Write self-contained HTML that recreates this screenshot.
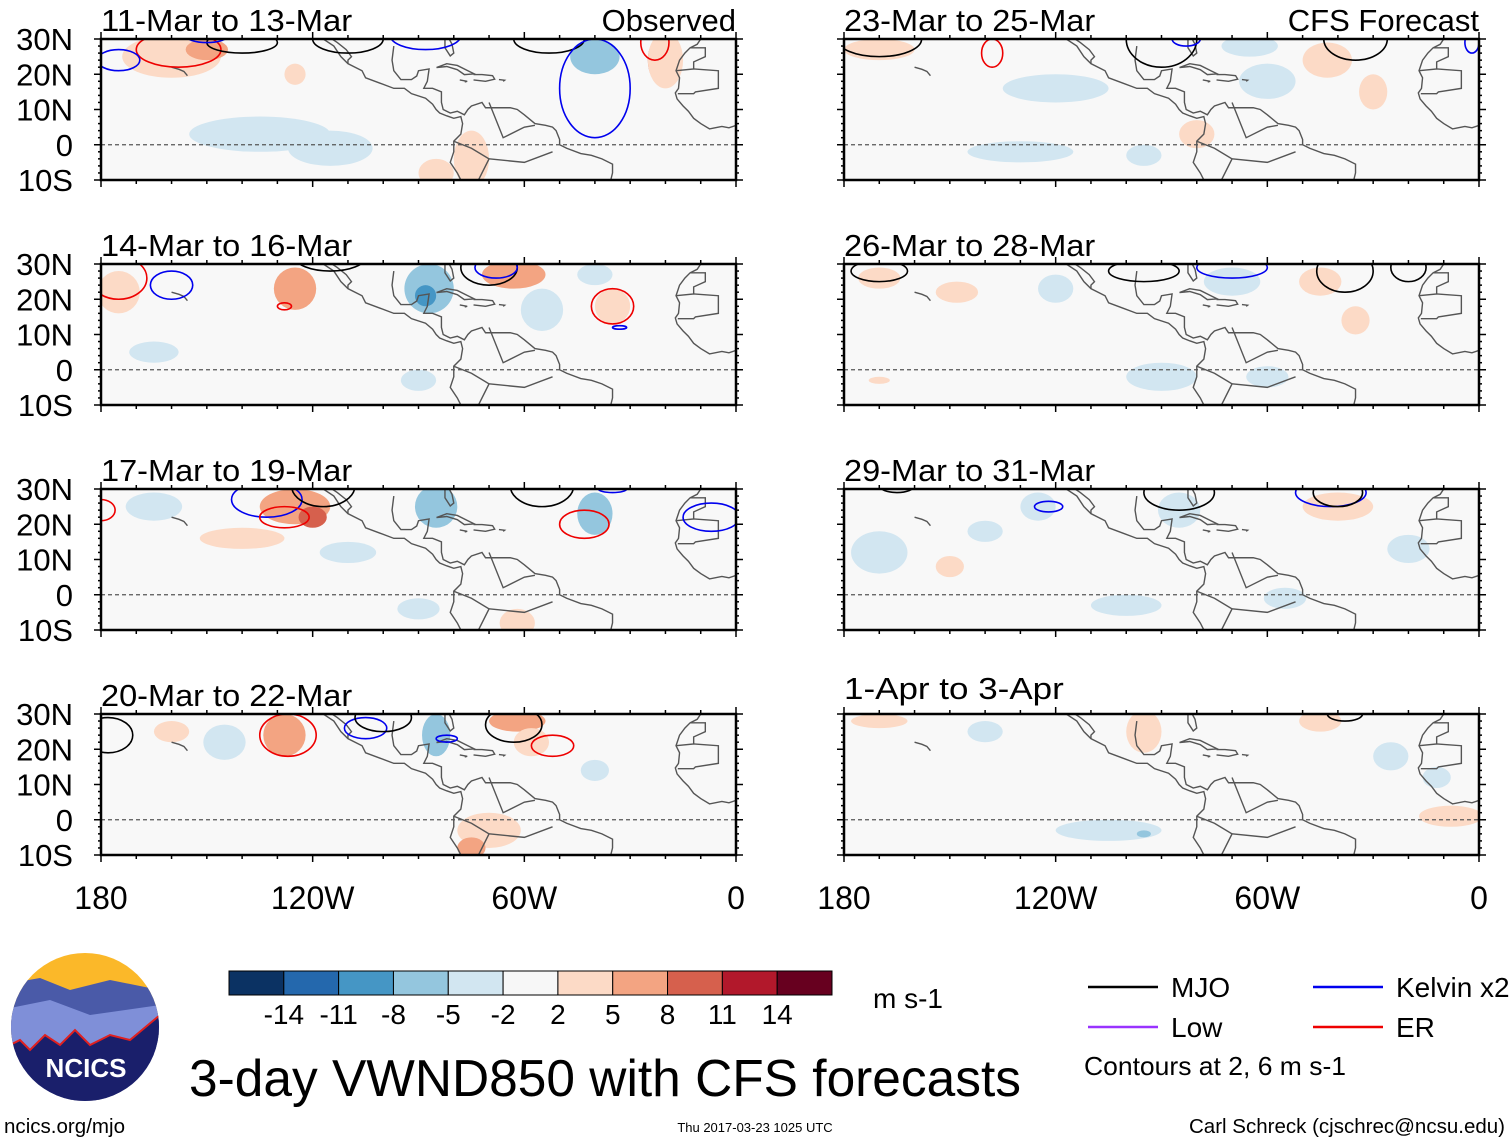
<!DOCTYPE html>
<html><head><meta charset="utf-8"><style>
html,body{margin:0;padding:0;background:#fff;}
svg{display:block;font-family:"Liberation Sans",sans-serif;}
</style></head><body>
<svg id="fig" width="1510" height="1142" viewBox="0 0 1510 1142" xmlns="http://www.w3.org/2000/svg"></svg>
<script>
// ---- data ----
const panelTitles = ["11-Mar to 13-Mar","14-Mar to 16-Mar","17-Mar to 19-Mar","20-Mar to 22-Mar","23-Mar to 25-Mar","26-Mar to 28-Mar","29-Mar to 31-Mar","1-Apr to 3-Apr"];
const latTicks = [30,20,10,0,-10];
const latLabels = ["30N","20N","10N","0","10S"];
const lonTicks = [-180,-120,-60,0];
const lonLabels = ["180","120W","60W","0"];
const levels = [-14,-11,-8,-5,-2,2,5,8,11,14];
const levelColors = ["#0b3263","#2468ad","#4596c5","#94c6de","#d2e6f1","#f7f7f7","#fcdac6","#f3a482","#d6604d","#b2182b","#67001f"];
// anomaly blobs per panel: [lon, lat, rxDeg, ryDeg, value]
const blobs0 = [[-160,25,14,6,3],[-150,27,6,3,6],[-125,20,3,3,5],[-135,3,20,5,-3],[-115,-1,12,5,-3],[-22,24,3,6,9],[-20,24,5,8,4],[-40,25,7,5,-5],[-75,-4,5,8,3],[-85,-8,5,4,3]];
const blobs1 = [[-175,22,6,6,3],[-125,23,6,6,6],[-87,23,7,7,-6],[-88,21,3,3,-9],[-63,27,9,4,8],[-55,17,6,6,-3],[-35,18,5,5,4],[-40,27,5,3,-4],[-165,5,7,3,-3],[-90,-3,5,3,-3]];
const blobs2 = [[-165,25,8,4,-4],[-125,25,10,5,7],[-120,22,4,3,9],[-85,25,6,6,-5],[-40,23,5,6,-5],[-140,16,12,3,3],[-62,-8,5,4,5],[-90,-4,6,3,-3],[-110,12,8,3,-3]];
const blobs3 = [[-145,22,6,5,-4],[-128,24,6,6,6],[-85,24,4,6,-7],[-62,28,8,3,6],[-58,22,5,4,3],[-70,-3,9,5,4],[-75,-8,4,3,6],[-160,25,5,3,3],[-40,14,4,3,-3]];
const blobs4 = [[-170,27,10,3,3],[-120,16,15,4,-3],[-60,18,8,5,-3],[-65,28,8,3,-4],[-43,24,7,5,4],[-30,15,4,5,3],[-80,3,5,4,3],[-130,-2,15,3,-3],[-95,-3,5,3,-4]];
const blobs5 = [[-170,26,6,3,3],[-148,22,6,3,3],[-120,23,5,4,-3],[-70,25,8,4,-3],[-45,25,6,4,5],[-35,14,4,4,3],[-90,-2,10,4,-3],[-60,-2,6,3,-3],[-170,-3,3,1,3]];
const blobs6 = [[-170,12,8,6,-3],[-125,25,5,4,-4],[-140,18,5,3,-3],[-85,24,6,5,-3],[-40,25,10,4,4],[-20,13,6,4,-3],[-150,8,4,3,3],[-100,-3,10,3,-3],[-55,-1,6,3,-3]];
const blobs7 = [[-170,28,8,2,3],[-140,25,5,3,-3],[-95,25,5,6,3],[-45,28,6,3,3],[-25,18,5,4,-3],[-12,12,4,3,-3],[-105,-3,15,3,-3],[-95,-4,2,1,-5],[-8,1,9,3,3]];
const allBlobs = [blobs0,blobs1,blobs2,blobs3,blobs4,blobs5,blobs6,blobs7];
// contour ellipses per panel: [lon, lat, rxDeg, ryDeg, type]
const cont0 = [[-158,27,12,5,"ER"],[-175,24,6,3,"K"],[-140,29,10,3,"MJO"],[-110,30,10,4,"MJO"],[-150,31,6,2,"K"],[-88,31,10,4,"K"],[-53,30,10,4,"MJO"],[-40,16,10,14,"K"],[-23,29,4,5,"ER"]];
const cont1 = [[-175,26,8,6,"ER"],[-160,24,6,4,"K"],[-115,32,10,4,"MJO"],[-70,29,8,5,"MJO"],[-68,29,6,3,"K"],[-35,18,6,5,"ER"],[-128,18,2,1,"ER"],[-33,12,2,0.5,"K"]];
const cont2 = [[-180,24,4,3,"ER"],[-133,27,10,5,"K"],[-128,22,7,3,"ER"],[-117,31,9,6,"MJO"],[-55,31,9,6,"MJO"],[-43,20,7,4,"ER"],[-35,30,4,1,"K"],[-7,22,8,4,"K"]];
const cont3 = [[-178,24,7,5,"MJO"],[-127,24,8,6,"ER"],[-105,26,6,3,"K"],[-100,29,8,4,"MJO"],[-82,23,3,1,"K"],[-63,27,8,5,"MJO"],[-52,21,6,3,"ER"]];
const cont4 = [[-170,30,12,5,"MJO"],[-138,26,3,4,"ER"],[-90,30,10,8,"MJO"],[-83,30,4,2,"K"],[-35,30,9,6,"MJO"],[-2,29,2,3,"K"]];
const cont5 = [[-170,28,8,3,"MJO"],[-95,28,10,3,"MJO"],[-70,29,10,3,"K"],[-38,28,8,6,"MJO"],[-20,29,5,4,"MJO"]];
const cont6 = [[-165,31,5,2,"MJO"],[-122,25,4,1.5,"K"],[-85,29,10,5,"MJO"],[-42,29,10,4,"K"],[-40,29,7,4,"MJO"]];
const cont7 = [[-38,30,5,2,"MJO"]];
const allCont = [cont0,cont1,cont2,cont3,cont4,cont5,cont6,cont7];
const contColors = {MJO:"#000",K:"#0000ee",ER:"#ee0000"};
// coastlines [lon,lat]
const coastA = [[-117,30],[-114,28],[-112,25],[-110,23],[-106,21],[-105,19],[-101,17.5],[-97,16],[-94,16],[-92,14.5],[-88,13.2],[-86,11.5],[-85,10],[-84,9],[-82,8.2],[-80,7.5],[-78,8],[-77.5,6],[-78,3],[-80,1],[-80,-2],[-81,-5],[-79,-8],[-78,-10]];
const coastB = [[-97,28],[-97.5,24],[-97,21],[-95,18.5],[-92,18.5],[-90.5,19.5],[-90,21],[-87,21.5],[-87.5,18],[-88.5,16],[-86,16],[-83.5,15],[-83.5,12],[-83,10],[-81,9],[-79,9.5],[-77,8.5],[-76,10],[-75,11],[-72,12],[-71,10.5],[-68,10.5],[-64,10.5],[-62,10],[-60,8.5],[-57,6],[-54,5.5],[-52,5],[-51,4],[-50,1.5],[-50,0],[-48,-1],[-44,-2.5],[-41,-3],[-38,-4],[-35,-5.5],[-35,-8],[-35.5,-10]];
const coastC = [[-114.5,30],[-113,29],[-110.5,27],[-109,25],[-110,24],[-110,23]];
const coastD = [[-82.5,30],[-82.5,27.5],[-81,25.2],[-80,26],[-80.5,28.5],[-81.3,30]];
const coastE = [[-84.9,21.9],[-82,23],[-79,22.5],[-76,21],[-74.2,20.1],[-77,19.9],[-79,21.3],[-82,22.2],[-84.9,21.9]];
const coastF = [[-74.4,19.9],[-72,19.9],[-69,19.6],[-68.4,18.6],[-71,18],[-74.4,18.4]];
const coastG = [[-78.3,18.4],[-76.2,18],[-76.9,17.8]];
const coastH = [[-67.2,18.5],[-65.6,18.3],[-66,18]];
const coastI = [[-10,30],[-11,28.5],[-13,27.5],[-14.5,26],[-16,24],[-17,21],[-16,19],[-16.3,16],[-17.2,14.7],[-16.7,13],[-15,11],[-13.5,9.5],[-12,7.5],[-10,6],[-7.5,4.5],[-4,5.2],[-2,4.8],[0,5.5]];
const coastJ = [[-13,27.5],[-8.7,27.5],[-8.7,25],[-12,23.5],[-12,21.5],[-17,21]];
const coastK = [[-12,21.5],[-5,21],[-5,16],[-11.5,15],[-12,14.5],[-16.5,14.5]];
const coastL = [[-70,12],[-66,2],[-60,5],[-57,5.5]];
const coastM = [[-80,1],[-75,-1],[-70,-4],[-73,-10]];
const coastN = [[-70,-4],[-60,-5],[-52,-2]];
const hawaii = [[-160,22],[-157.9,21.4],[-156.5,20.8],[-155.5,19.6]];
const allCoast = [coastA,coastB,coastC,coastD,coastE,coastF,coastG,coastH,coastI,coastJ,coastK,coastL,coastM,coastN,hawaii];
// colorbar labels
const cbLabels = ["-14","-11","-8","-5","-2","2","5","8","11","14"];

// ---- drawing ----
const NS="http://www.w3.org/2000/svg";
const svg=document.getElementById("fig");
function mk(tag,attrs,parent){const e=document.createElementNS(NS,tag);for(const k in attrs)e.setAttribute(k,attrs[k]);(parent||svg).appendChild(e);return e;}
const colX=[101,844], rowY=[39,264,489,714], PW=635, PH=141;
function colorFor(v){let i=0;while(i<levels.length&&v>levels[i])i++;return levelColors[i];}
const defs=mk("defs",{});
for(let p=0;p<8;p++){
  const col=p<4?0:1,row=p%4;
  const x0=colX[col],y0=rowY[row];
  const X=lon=>x0+(lon+180)/180*PW;
  const Y=lat=>y0+(30-lat)/40*PH;
  const cp=mk("clipPath",{id:"clip"+p},defs);
  mk("rect",{x:x0,y:y0,width:PW,height:PH},cp);
  const g=mk("g",{"clip-path":"url(#clip"+p+")"});
  
  
  mk("rect",{x:x0,y:y0,width:PW,height:PH,fill:"#f8f8f8"},g);
  const bl=allBlobs[p];
  for(let i=0;i<bl.length;i++){
    const b=bl[i];
    const e=mk("ellipse",{cx:X(b[0]),cy:Y(b[1]),rx:b[2]/180*PW,ry:b[3]/40*PH,fill:colorFor(b[4])},g);
    
    
  }
  for(const c of allCoast){
    const pl=mk("polyline",{points:c.map(q=>X(q[0])+","+Y(q[1])).join(" "),fill:"none",stroke:"#555","stroke-width":1.4},g);
    
    
  }
  mk("line",{x1:x0,x2:x0+PW,y1:Y(0),y2:Y(0),stroke:"#555","stroke-width":1.2,"stroke-dasharray":"4,3"},g);
  const ct=allCont[p];
  for(let i=0;i<ct.length;i++){
    const c=ct[i];
    const e=mk("ellipse",{cx:X(c[0]),cy:Y(c[1]),rx:c[2]/180*PW,ry:c[3]/40*PH,fill:"none",stroke:contColors[c[4]],"stroke-width":1.6},g);
    
    
  }
  const fr=mk("rect",{x:x0,y:y0,width:PW,height:PH,fill:"none",stroke:"#000","stroke-width":2.5});
  
  
  // ticks
  for(let lon=-180;lon<=0;lon+=10){
    const major=lonTicks.includes(lon);const L=major?7:4;
    mk("line",{x1:X(lon),x2:X(lon),y1:y0-L,y2:y0,stroke:"#000","stroke-width":1.5});
    mk("line",{x1:X(lon),x2:X(lon),y1:y0+PH,y2:y0+PH+L,stroke:"#000","stroke-width":1.5});
  }
  for(let lat=-10;lat<=30;lat+=2){
    const major=lat%10===0;const L=major?7:3;
    mk("line",{x1:x0-L,x2:x0,y1:Y(lat),y2:Y(lat),stroke:"#000","stroke-width":1.5});
    mk("line",{x1:x0+PW,x2:x0+PW+L,y1:Y(lat),y2:Y(lat),stroke:"#000","stroke-width":1.5});
  }
  if(col===0){
    for(let i=0;i<latTicks.length;i++){
      const t=mk("text",{x:73,y:Y(latTicks[i])+11,"font-size":31,"text-anchor":"end"});
      t.textContent=latLabels[i];
      
      
    }
  }
  const ty=(p===7)?699:y0-8;
  const tt=mk("text",{x:x0,y:ty,"font-size":31,textLength:panelTitles[p].length*15.7,lengthAdjust:"spacingAndGlyphs"});
  tt.textContent=panelTitles[p];
  
  
  if(row===3){
    for(let i=0;i<lonTicks.length;i++){
      const t=mk("text",{x:X(lonTicks[i]),y:909,"font-size":32,"text-anchor":"middle"});
      t.textContent=lonLabels[i];
      
      
    }
  }
}
function txt(s,attrs,name){const t=mk("text",attrs);t.textContent=s;return t;}
txt("Observed",{x:736,y:31,"font-size":31,"text-anchor":"end"},"observed-label");
txt("CFS Forecast",{x:1479,y:31,"font-size":31,"text-anchor":"end"},"forecast-label");
// colorbar
const cbx=229,cby=971,cbw=603/11,cbh=24;
for(let i=0;i<levelColors.length;i++){
  const r=mk("rect",{x:cbx+i*cbw,y:cby,width:cbw,height:cbh,fill:levelColors[i],stroke:"#000","stroke-width":1});
  
  
}
for(let i=0;i<cbLabels.length;i++){
  txt(cbLabels[i],{x:cbx+(i+1)*cbw,y:1024,"font-size":28,"text-anchor":"middle"},"colorbar-label");
}
txt("m s-1",{x:873,y:1008,"font-size":28},"units-label");
// legend
const leg=[["MJO","#000",1088,987],["Low","#9933ff",1088,1027],["Kelvin x2","#0000ee",1313,987],["ER","#ee0000",1313,1027]];
for(const l of leg){
  const ln=mk("line",{x1:l[2],x2:l[2]+70,y1:l[3],y2:l[3],stroke:l[1],"stroke-width":2.5});
  
  
  txt(l[0],{x:l[2]+83,y:l[3]+10,"font-size":28},"legend-entry");
}
txt("Contours at 2, 6 m s-1",{x:1084,y:1075,"font-size":26,textLength:262,lengthAdjust:"spacingAndGlyphs"},"contour-note");
txt("3-day VWND850 with CFS forecasts",{x:189,y:1096,"font-size":52,textLength:832,lengthAdjust:"spacingAndGlyphs"},"main-title");
txt("ncics.org/mjo",{x:4,y:1133,"font-size":20,textLength:121,lengthAdjust:"spacingAndGlyphs"},"url-label");
txt("Thu 2017-03-23 1025 UTC",{x:755,y:1132,"font-size":13,"text-anchor":"middle"},"timestamp");
txt("Carl Schreck (cjschrec@ncsu.edu)",{x:1505,y:1133,"font-size":20,"text-anchor":"end",textLength:316,lengthAdjust:"spacingAndGlyphs"},"author-label");
// logo
const lg=mk("g",{});


const lcp=mk("clipPath",{id:"logoclip"},defs);
mk("ellipse",{cx:85,cy:1027,rx:74,ry:74},lcp);
const lgi=mk("g",{"clip-path":"url(#logoclip)"},lg);
mk("rect",{x:0,y:950,width:170,height:160,fill:"#fbb829"},lgi);
mk("polygon",{points:"0,985 40,978 70,990 110,980 160,990 160,1110 0,1110",fill:"#4a5aa8"},lgi);
mk("polygon",{points:"0,1010 50,1000 90,1015 160,1005 160,1110 0,1110",fill:"#7f8fd8"},lgi);
mk("polygon",{points:"0,1050 20,1040 30,1050 45,1035 60,1045 75,1030 90,1045 110,1035 130,1040 160,1015 160,1110 0,1110",fill:"#1a1f6b",stroke:"#e02020","stroke-width":2},lgi);
const lt=mk("text",{x:86,y:1077,"font-size":26,"font-weight":"bold",fill:"#fff","text-anchor":"middle"},lg);
lt.textContent="NCICS";
</script>
</body></html>
